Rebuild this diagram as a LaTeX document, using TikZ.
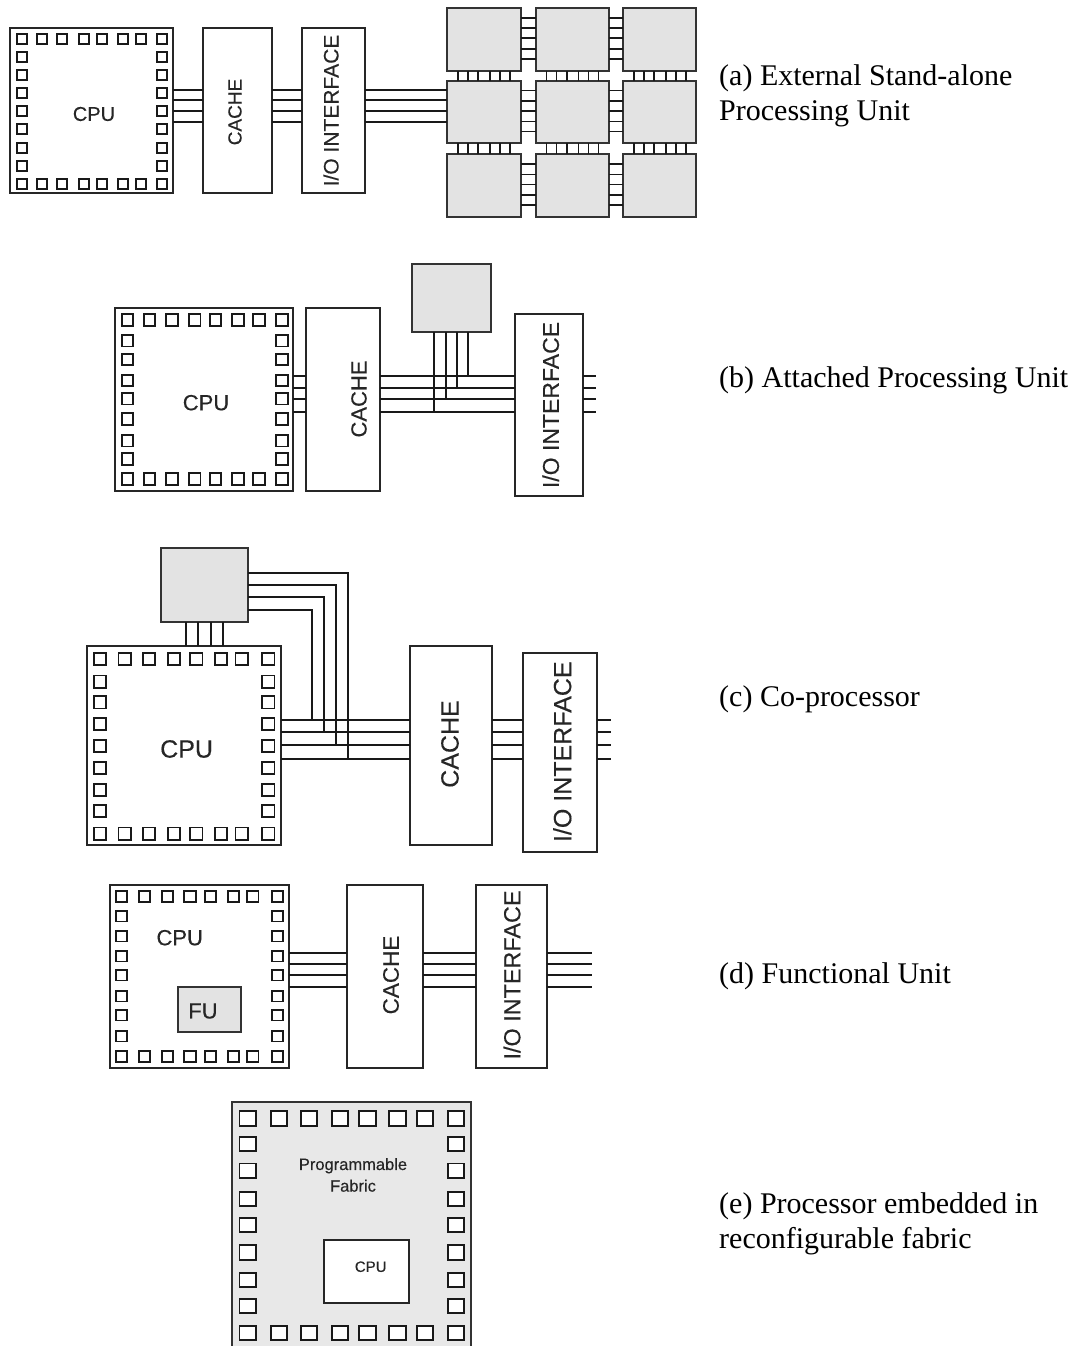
\documentclass[tikz,border=0pt]{standalone}
\usepackage{fontspec}
\setmainfont{Liberation Serif}
\setsansfont{Liberation Sans}
\newfontfamily\tagfont[FakeBold=0.25]{Liberation Sans}
\usetikzlibrary{calc}

% one ring of pads: top and bottom rows, then left and right columns
\newcommand{\padring}[6]{%
	\foreach \px in {#1} \foreach \py in {#3}
		\draw[padline] ({\px-#5},{\py-#6}) rectangle ({\px+#5},{\py+#6});
	\foreach \px in {#2} \foreach \py in {#4}
		\draw[padline] ({\px-#5},{\py-#6}) rectangle ({\px+#5},{\py+#6});
}

\begin{document}
\begin{tikzpicture}[
		x=1pt, y=-1pt,
		wire/.style={draw=black!90, line width=1.8pt},
		padline/.style={draw=black!90, line width=1.8pt, fill=white},
		chip/.style={draw=black!85, line width=2.2pt, fill=white, outer sep=0pt, inner sep=0pt},
		block/.style={draw=black!85, line width=1.8pt, fill=white, outer sep=0pt, inner sep=0pt},
		unit/.style={draw=black!80, line width=2pt, fill=black!11, outer sep=0pt, inner sep=0pt},
		tag/.style={text=black!85, inner sep=0pt, font=\tagfont\fontsize{#1}{#1}\selectfont},
		vtag/.style={tag=#1, rotate=90},
		caption/.style={anchor=base west, inner sep=0pt, align=left, font=\rmfamily\fontsize{30}{35}\selectfont}
		]
		\useasboundingbox (0,0) rectangle (1073,1346);
		
		% (a) stand-alone unit
		\node[chip, minimum width=163, minimum height=165] (cpua) at (91.7,110.5) {};
		\padring{22.3,42,62.3,84,102,122.7,141.3,161.7}{22.3,161.7}{39,184}{57.3,75,92.7,110.7,129.3,147.7,165.7}{5}{5}
		\node[tag=20] (cpulabela) at (94,114) {CPU};
		\node[block, minimum width=69, minimum height=165] (cachea) at (237.8,110.5) {};
		\node[vtag=19] (cachelabela) at (235,112) {CACHE};
		\node[block, minimum width=63, minimum height=165] (ioa) at (333.5,110.5) {};
		\node[vtag=21] (iolabela) at (331,110.5) {I/O INTERFACE};
		
		\foreach \cx/\c in {483.85/1,572.5/2,659.7/3}
			\foreach \cy/\r in {39.4/1,112/2,185.5/3}
				\node[unit, minimum width=73.5, minimum height=62.7] (u\r\c) at (\cx,\cy) {};
		\foreach \r in {1,2,3}
			\foreach \off in {-21.5,-11,-1,9.5,19.5} {
				\draw[wire] ($(u\r1.east)+(0,\off)$) -- ($(u\r2.west)+(0,\off)$);
				\draw[wire] ($(u\r2.east)+(0,\off)$) -- ($(u\r3.west)+(0,\off)$);
			}
		\foreach \c in {1,2,3}
			\foreach \off in {-26,-16,-5.5,6,16,26} {
				\draw[wire] ($(u1\c.south)+(\off,0)$) -- ($(u2\c.north)+(\off,0)$);
				\draw[wire] ($(u2\c.south)+(\off,0)$) -- ($(u3\c.north)+(\off,0)$);
			}
		\foreach \y in {90,100.3,110.7,121.7} {
			\draw[wire] (cpua.east |- 0,\y) -- (cachea.west |- 0,\y);
			\draw[wire] (cachea.east |- 0,\y) -- (ioa.west |- 0,\y);
			\draw[wire] (ioa.east |- 0,\y) -- (u21.west |- 0,\y);
		}
		\node[caption] (capa) at (719,120) {(a) External Stand-alone\\Processing Unit};
		
		% (b) attached unit
		\node[chip, minimum width=178, minimum height=183] (cpub) at (204.3,399.7) {};
		\padring{127.3,149.3,172,194.7,215.3,238,259,282}{127.3,282}{320,479}{340.7,359.3,380.3,398.7,419,440.7,459}{5.7}{5.7}
		\node[tag=22] (cpulabelb) at (206,402.7) {CPU};
		\node[block, minimum width=74, minimum height=183] (cacheb) at (343,399.7) {};
		\node[vtag=22] (cachelabelb) at (359,399) {CACHE};
		\node[unit, minimum width=79, minimum height=68] (unitb) at (451.3,298) {};
		\node[block, minimum width=68, minimum height=182] (iob) at (549,405.3) {};
		\node[vtag=23] (iolabelb) at (550.7,405) {I/O INTERFACE};
		\coordinate (endb) at (596,0);
		\foreach \y in {376.3,387.7,399,411.7} {
			\draw[wire] (cpub.east |- 0,\y) -- (cacheb.west |- 0,\y);
			\draw[wire] (cacheb.east |- 0,\y) -- (iob.west |- 0,\y);
			\draw[wire] (iob.east |- 0,\y) -- (endb |- 0,\y);
		}
		\foreach \x/\y in {434.3/411.7,445.7/399,456.7/387.7,468/376.3}
			\draw[wire] (\x,0 |- unitb.south) -- (\x,\y);
		\node[caption] (capb) at (719,387) {(b) Attached Processing Unit};
		
		% (c) co-processor
		\node[chip, minimum width=193.7, minimum height=199] (cpuc) at (184.2,745.5) {};
		\padring{100,124.7,149,174,196.3,221,241.7,268.3}{100,268.3}{659,833.7}{681.7,702.3,724,746,768,790,811}{6.2}{6.2}
		\node[tag=25] (cpulabelc) at (186.6,749) {CPU};
		\node[block, minimum width=82, minimum height=199] (cachec) at (451,745.5) {};
		\node[vtag=25] (cachelabelc) at (450,744) {CACHE};
		\node[unit, minimum width=87, minimum height=74] (unitc) at (204.5,585) {};
		\node[block, minimum width=73.7, minimum height=199] (ioc) at (559.8,752.3) {};
		\node[vtag=25] (iolabelc) at (562.3,751.7) {I/O INTERFACE};
		\coordinate (endc) at (610.7,0);
		\foreach \y in {720,732.3,745.3,759.3} {
			\draw[wire] (cpuc.east |- 0,\y) -- (cachec.west |- 0,\y);
			\draw[wire] (cachec.east |- 0,\y) -- (ioc.west |- 0,\y);
			\draw[wire] (ioc.east |- 0,\y) -- (endc |- 0,\y);
		}
		\foreach \x in {186,198.3,211,223.3}
			\draw[wire] (\x,0 |- unitc.south) -- (\x,0 |- cpuc.north);
		\foreach \ya/\x/\yb in {572.7/348/759.3,585/336/745.3,597.3/323.7/732.3,609.7/311.7/720}
			\draw[wire] (unitc.east |- 0,\ya) -| (\x,\yb);
		\node[caption] (capc) at (719,706) {(c) Co-processor};
		
		% (d) functional unit
		\node[chip, minimum width=178.7, minimum height=183.3] (cpud) at (199.4,976.7) {};
		\padring{121.3,144.3,167.3,190,210.3,233.3,252.7,277.3}{121.3,277.3}{896.3,1056.7}{916,936,956,975,996,1015,1036}{5.7}{5.4}
		\node[tag=22] (cpulabeld) at (179.7,937.7) {CPU};
		\node[unit, minimum width=63, minimum height=45.3] (fud) at (209.8,1009.7) {};
		\node[tag=22] (fulabeld) at (203,1011) {FU};
		\node[block, minimum width=76.3, minimum height=183.3] (cached) at (385.2,976.7) {};
		\node[vtag=22.5] (cachelabeld) at (391,975) {CACHE};
		\node[block, minimum width=71, minimum height=183.3] (iod) at (511.2,976.7) {};
		\node[vtag=23.4] (iolabeld) at (512,975) {I/O INTERFACE};
		\coordinate (endd) at (592,0);
		\foreach \y in {953,964.3,975.3,987} {
			\draw[wire] (cpud.east |- 0,\y) -- (cached.west |- 0,\y);
			\draw[wire] (cached.east |- 0,\y) -- (iod.west |- 0,\y);
			\draw[wire] (iod.east |- 0,\y) -- (endd |- 0,\y);
		}
		\node[caption] (capd) at (719,983) {(d) Functional Unit};
		
		% (e) embedded in fabric, cut off at the bottom
		\node[fill=black!9, draw=none, outer sep=0pt, inner sep=0pt, minimum width=239.4, minimum height=243.7] (fabric) at (351.2,1224.2) {};
		\draw[draw=black!80, line width=2pt] (fabric.south west) |- (fabric.north east) -- (fabric.south east);
		\padring{247.7,279,309,340,367.3,397.3,425,456}{247.7,456}{1118.3,1333}{1144,1170.7,1199,1225,1252.3,1280,1306}{8.3}{7.3}
		\node[tag=16.5] (fabriclabel) at (353,1165.7) {Programmable};
		\node[tag=16.5] (fabriclabelb) at (353,1185.7) {Fabric};
		\node[block, minimum width=85.3, minimum height=62.7] (cpue) at (366.4,1271.4) {};
		\node[tag=15] (cpulabele) at (370.7,1266.7) {CPU};
		\node[caption] (cape) at (719,1248) {(e) Processor embedded in\\reconfigurable fabric};
		
	\end{tikzpicture}
\end{document}
